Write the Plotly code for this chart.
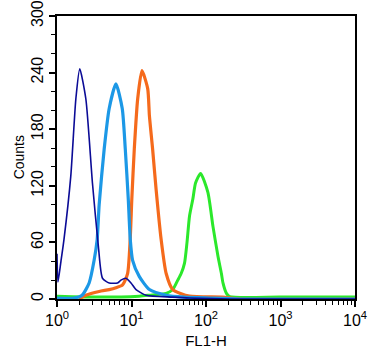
import plotly.graph_objects as go

# FL1-H values (linear) and counts for each histogram
navy_x = [1.0, 1.03, 1.13, 1.24, 1.53, 1.79, 2.02, 2.44, 2.99, 3.60, 4.08, 5.02, 6.50, 7.22, 8.43, 9.85, 11.5, 15.7, 35.5, 60, 209, 10000]
navy_y = [48, 18, 40, 63, 130, 212, 244, 212, 123, 55, 22, 17, 17, 20, 22, 17, 10, 4, 2, 1, 0, 0]

blue_x = [1.0, 1.69, 2.17, 2.70, 3.15, 3.46, 3.68, 4.30, 5.02, 6.18, 7.51, 8.25, 9.05, 9.63, 10.35, 12.7, 17.4, 29.4, 51.5, 112, 282, 10000]
blue_y = [1, 1, 4, 17, 41, 63, 100, 159, 202, 228, 202, 159, 106, 63, 41, 24, 10, 4, 2, 1, 0, 0]

orange_x = [1.98, 2.44, 3.68, 5.02, 6.18, 7.59, 8.86, 9.6, 10.1, 10.9, 12.1, 13.8, 16.5, 17.4, 19.2, 21.4, 25.0, 29.2, 35.8, 60, 167, 282, 10000]
orange_y = [0, 4, 8, 10, 12, 15, 27, 63, 106, 159, 212, 242, 223, 194, 159, 116, 63, 27, 10, 3, 2, 0, 0]

green_x = [1.0, 3.68, 12.7, 17.4, 29.2, 35.8, 41.8, 46.4, 51.5, 55.6, 60.1, 66.6, 72.4, 84.6, 106, 124, 145, 161, 169, 188, 208, 980, 10000]
green_y = [3, 2, 3, 4, 6, 10, 20, 27, 38, 60, 88, 106, 123, 133, 113, 77, 45, 27, 17, 6, 2.5, 2, 2]

y_ticks = [0, 60, 120, 180, 240, 300]
x_ticks = [1, 10, 100, 1000, 10000]
x_ticktext = ["10<sup>0</sup>", "10<sup>1</sup>", "10<sup>2</sup>", "10<sup>3</sup>", "10<sup>4</sup>"]

fig = go.Figure()
for xs, ys, col, w in [
    (green_x, green_y, "#2BE82B", 3),
    (orange_x, orange_y, "#F56A1C", 3.2),
    (blue_x, blue_y, "#1C98E6", 3.2),
    (navy_x, navy_y, "#0B0B96", 1.6),
]:
    fig.add_trace(go.Scatter(x=xs, y=ys, mode="lines",
                             line=dict(color=col, width=w, shape="spline", smoothing=0.6),
                             showlegend=False))

minor_x = [m * 10 ** k for k in range(4) for m in range(2, 10)]

font = "Liberation Sans, Arial, sans-serif"
fig.update_layout(
    width=372, height=352,
    margin=dict(l=57, r=17, t=16, b=53),
    paper_bgcolor="white", plot_bgcolor="white",
    font=dict(family=font, color="black", size=14),
    xaxis=dict(
        type="log", range=[0, 4], tickvals=x_ticks, ticktext=x_ticktext, automargin=False,
        showgrid=False, zeroline=False, showline=True, linecolor="black", linewidth=1.5,
        mirror=True, ticks="outside", ticklen=6, tickwidth=1.5, tickcolor="black",
        tickfont=dict(size=16),
        minor=dict(tickvals=minor_x, ticks="outside", ticklen=4, tickwidth=1.2, tickcolor="black", showgrid=False),
        title=dict(text="FL1-H", font=dict(size=15), standoff=8),
    ),
    yaxis=dict(
        range=[0, 300], tickvals=y_ticks, tickangle=-90, automargin=False,
        showgrid=False, zeroline=False, showline=True, linecolor="black", linewidth=1.5,
        mirror=True, ticks="outside", ticklen=6, tickwidth=1.5, tickcolor="black",
        tickfont=dict(size=16),
        minor=dict(dtick=20, ticks="outside", ticklen=4, tickwidth=1.2, tickcolor="black", showgrid=False),
    ),
    annotations=[dict(text="Counts", xref="paper", yref="paper", x=-0.128, y=0.5,
                      xanchor="center", yanchor="middle", textangle=-90, showarrow=False,
                      font=dict(size=14))],
)
fig.write_html("out.html")
